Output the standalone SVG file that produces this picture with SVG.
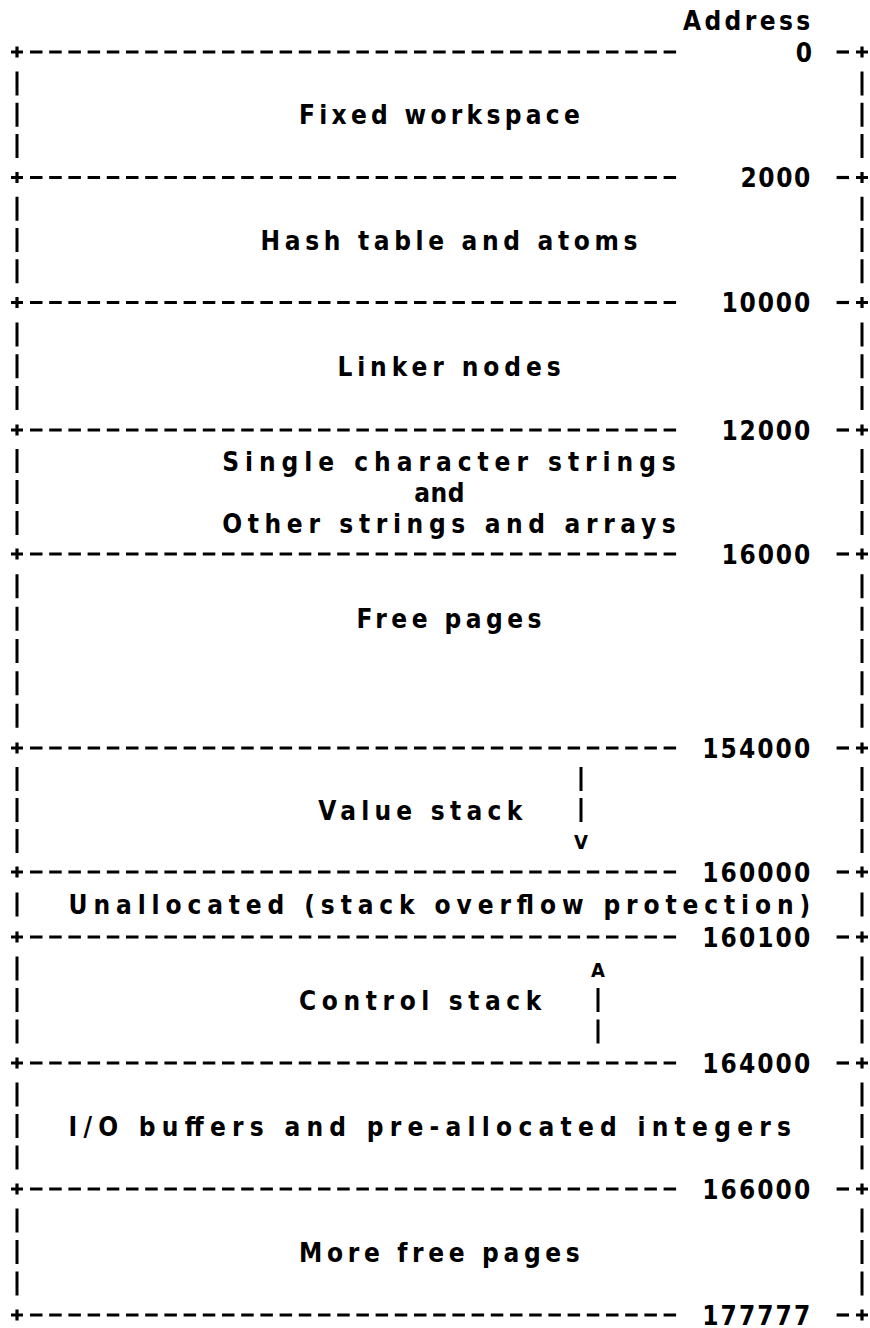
<svg xmlns="http://www.w3.org/2000/svg" xmlns:xlink="http://www.w3.org/1999/xlink" width="870" height="1328" viewBox="0 0 870 1328">
<defs>
<style>
.sep{stroke:#000;stroke-width:3.2;stroke-dasharray:12.5 6.7;fill:none}
.dash{stroke:#000;stroke-width:3.2;fill:none}
.bar{stroke:#000;stroke-width:3;fill:none}
.t{font-family:"DejaVu Sans Condensed","DejaVu Sans","Liberation Sans",sans-serif;font-size:26px;font-weight:bold;fill:#000}
.a{font-family:"DejaVu Sans Condensed","DejaVu Sans","Liberation Sans",sans-serif;font-size:20px;font-weight:bold;fill:#000}
</style>
<path id="plus" d="M-6,0H6M0,-5.5V5.5" stroke="#000" stroke-width="3.2" fill="none"/>
</defs>
<rect width="870" height="1328" fill="#fff"/>

<g id="header">
<text class="t" x="683" y="30" textLength="127.2" lengthAdjust="spacing">Address</text>
</g>

<g id="separators">
<g id="addr-0"><use xlink:href="#plus" x="17" y="52"/><line class="sep" x1="30" y1="52" x2="677" y2="52"/><text class="t" x="804" y="61.5" text-anchor="middle">0</text><line class="dash" x1="836.6" y1="52" x2="849" y2="52"/><use xlink:href="#plus" x="862" y="52"/></g>
<g id="addr-2000"><use xlink:href="#plus" x="17" y="177.5"/><line class="sep" x1="30" y1="177.5" x2="677" y2="177.5"/><text class="t" x="740.6" y="187" textLength="69.6" lengthAdjust="spacing">2000</text><line class="dash" x1="836.6" y1="177.5" x2="849" y2="177.5"/><use xlink:href="#plus" x="862" y="177.5"/></g>
<g id="addr-10000"><use xlink:href="#plus" x="17" y="302.5"/><line class="sep" x1="30" y1="302.5" x2="677" y2="302.5"/><text class="t" x="721.4" y="312" textLength="88.8" lengthAdjust="spacing">10000</text><line class="dash" x1="836.6" y1="302.5" x2="849" y2="302.5"/><use xlink:href="#plus" x="862" y="302.5"/></g>
<g id="addr-12000"><use xlink:href="#plus" x="17" y="430"/><line class="sep" x1="30" y1="430" x2="677" y2="430"/><text class="t" x="721.4" y="439.5" textLength="88.8" lengthAdjust="spacing">12000</text><line class="dash" x1="836.6" y1="430" x2="849" y2="430"/><use xlink:href="#plus" x="862" y="430"/></g>
<g id="addr-16000"><use xlink:href="#plus" x="17" y="554"/><line class="sep" x1="30" y1="554" x2="677" y2="554"/><text class="t" x="721.4" y="563.5" textLength="88.8" lengthAdjust="spacing">16000</text><line class="dash" x1="836.6" y1="554" x2="849" y2="554"/><use xlink:href="#plus" x="862" y="554"/></g>
<g id="addr-154000"><use xlink:href="#plus" x="17" y="748"/><line class="sep" x1="30" y1="748" x2="677" y2="748"/><text class="t" x="702.2" y="757.5" textLength="108" lengthAdjust="spacing">154000</text><line class="dash" x1="836.6" y1="748" x2="849" y2="748"/><use xlink:href="#plus" x="862" y="748"/></g>
<g id="addr-160000"><use xlink:href="#plus" x="17" y="872"/><line class="sep" x1="30" y1="872" x2="677" y2="872"/><text class="t" x="702.2" y="881.5" textLength="108" lengthAdjust="spacing">160000</text><line class="dash" x1="836.6" y1="872" x2="849" y2="872"/><use xlink:href="#plus" x="862" y="872"/></g>
<g id="addr-160100"><use xlink:href="#plus" x="17" y="937"/><line class="sep" x1="30" y1="937" x2="677" y2="937"/><text class="t" x="702.2" y="946.5" textLength="108" lengthAdjust="spacing">160100</text><line class="dash" x1="836.6" y1="937" x2="849" y2="937"/><use xlink:href="#plus" x="862" y="937"/></g>
<g id="addr-164000"><use xlink:href="#plus" x="17" y="1063"/><line class="sep" x1="30" y1="1063" x2="677" y2="1063"/><text class="t" x="702.2" y="1072.5" textLength="108" lengthAdjust="spacing">164000</text><line class="dash" x1="836.6" y1="1063" x2="849" y2="1063"/><use xlink:href="#plus" x="862" y="1063"/></g>
<g id="addr-166000"><use xlink:href="#plus" x="17" y="1189"/><line class="sep" x1="30" y1="1189" x2="677" y2="1189"/><text class="t" x="702.2" y="1198.5" textLength="108" lengthAdjust="spacing">166000</text><line class="dash" x1="836.6" y1="1189" x2="849" y2="1189"/><use xlink:href="#plus" x="862" y="1189"/></g>
<g id="addr-177777"><use xlink:href="#plus" x="17" y="1315"/><line class="sep" x1="30" y1="1315" x2="677" y2="1315"/><text class="t" x="702.2" y="1324.5" textLength="108" lengthAdjust="spacing">177777</text><line class="dash" x1="836.6" y1="1315" x2="849" y2="1315"/><use xlink:href="#plus" x="862" y="1315"/></g>
</g>

<g id="fixed-workspace">
<path class="bar" d="M17,71.4V95.4M862,71.4V95.4M17,102.75V126.75M862,102.75V126.75M17,134.1V158.1M862,134.1V158.1"/>
<text class="t" x="299" y="124.25" textLength="280.8" lengthAdjust="spacing">Fixed workspace</text>
</g>

<g id="hash-table">
<path class="bar" d="M17,196.75V220.75M862,196.75V220.75M17,228V252M862,228V252M17,259.25V283.25M862,259.25V283.25"/>
<text class="t" x="260.6" y="249.5" textLength="376.8" lengthAdjust="spacing">Hash table and atoms</text>
</g>

<g id="linker-nodes">
<path class="bar" d="M17,322.4V346.4M862,322.4V346.4M17,354.25V378.25M862,354.25V378.25M17,386.1V410.1M862,386.1V410.1"/>
<text class="t" x="337.4" y="375.75" textLength="223.2" lengthAdjust="spacing">Linker nodes</text>
</g>

<g id="strings">
<path class="bar" d="M17,449V473M862,449V473M17,480V504M862,480V504M17,511V535M862,511V535"/>
<text class="t" x="222.2" y="470.5" textLength="453.6" lengthAdjust="spacing">Single character strings</text>
<text class="t" x="414.2" y="501.5" textLength="50.4" lengthAdjust="spacing">and</text>
<text class="t" x="222.2" y="532.5" textLength="453.6" lengthAdjust="spacing">Other strings and arrays</text>
</g>

<g id="free-pages">
<path class="bar" d="M17,574.3V598.3M862,574.3V598.3M17,606.7V630.7M862,606.7V630.7M17,639V663M862,639V663M17,671.3V695.3M862,671.3V695.3M17,703.7V727.7M862,703.7V727.7"/>
<text class="t" x="356.6" y="628.2" textLength="184.8" lengthAdjust="spacing">Free pages</text>
</g>

<g id="value-stack">
<path class="bar" d="M17,767V791M862,767V791M17,798V822M862,798V822M17,829V853M862,829V853"/>
<text class="t" x="318.2" y="819.5" textLength="204" lengthAdjust="spacing">Value stack</text>
</g>

<g id="unallocated">
<path class="bar" d="M17,892.5V916.5M862,892.5V916.5"/>
<text class="t" x="68.6" y="914" textLength="741.6" lengthAdjust="spacing">Unallocated (stack overflow protection)</text>
</g>

<g id="control-stack">
<path class="bar" d="M17,956.5V980.5M862,956.5V980.5M17,988V1012M862,988V1012M17,1019.5V1043.5M862,1019.5V1043.5"/>
<text class="t" x="299" y="1009.5" textLength="242.4" lengthAdjust="spacing">Control stack</text>
</g>

<g id="io-buffers">
<path class="bar" d="M17,1082.5V1106.5M862,1082.5V1106.5M17,1114V1138M862,1114V1138M17,1145.5V1169.5M862,1145.5V1169.5"/>
<text class="t" x="68.6" y="1135.5" textLength="722.4" lengthAdjust="spacing">I/O buffers and pre-allocated integers</text>
</g>

<g id="more-free-pages">
<path class="bar" d="M17,1208.5V1232.5M862,1208.5V1232.5M17,1240V1264M862,1240V1264M17,1271.5V1295.5M862,1271.5V1295.5"/>
<text class="t" x="299" y="1261.5" textLength="280.8" lengthAdjust="spacing">More free pages</text>
</g>

<g id="connectors">
<g id="value-stack-growth">
<path class="bar" d="M581,767V791M581,798V822"/>
<text class="a" x="581" y="849" text-anchor="middle">V</text>
</g>
<g id="control-stack-growth">
<text class="a" x="598" y="977" text-anchor="middle">A</text>
<path class="bar" d="M598,988V1012M598,1019.5V1043.5"/>
</g>
</g>
</svg>
